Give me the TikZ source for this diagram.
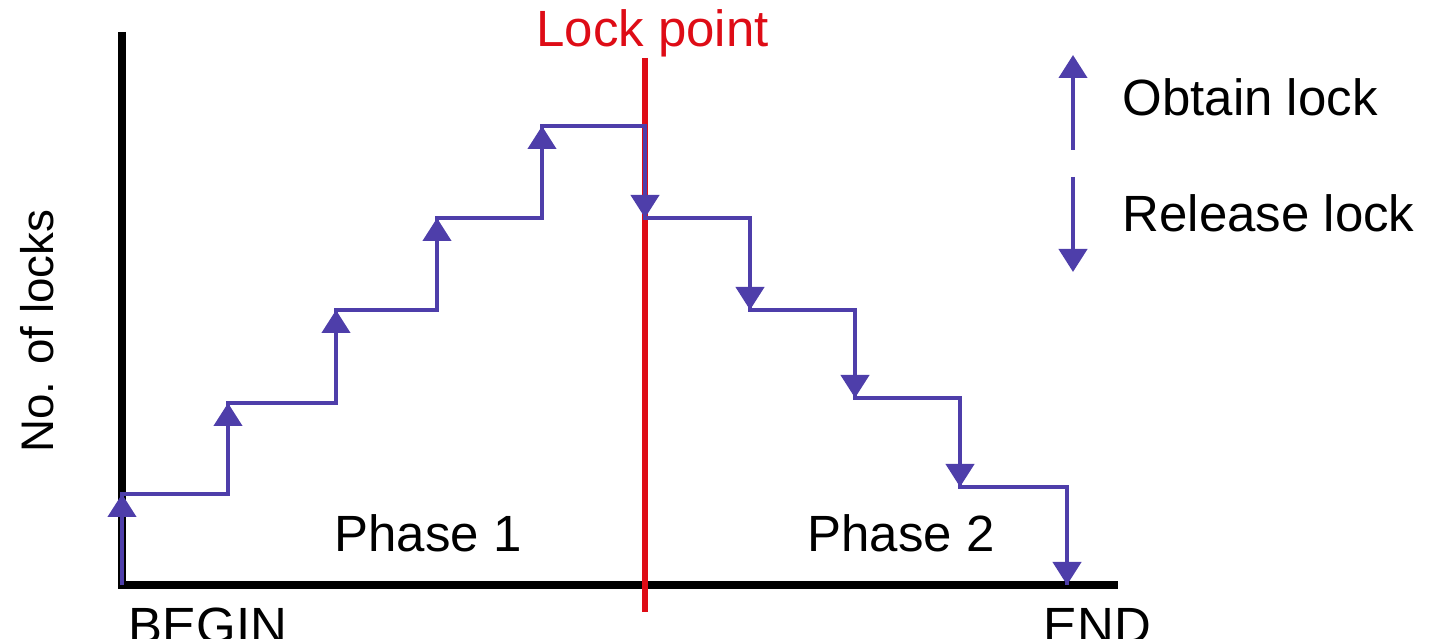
\documentclass[tikz,border=0pt]{standalone}
\usepackage{fontspec}
\setmainfont{Liberation Sans}
\usepackage{xcolor}
\usepackage{tikz}
\usetikzlibrary{arrows.meta,positioning}
\definecolor{lockblue}{RGB}{78,62,170}
\definecolor{lockred}{RGB}{222,12,22}

\begin{document}
\begin{tikzpicture}[
    axisline/.style={line width=0.08cm, black, line join=miter},
    stepline/.style={line width=0.042cm, lockblue, line join=miter},
    lockarrow/.style={line width=0.042cm, lockblue, -{Triangle[width=0.28cm, length=0.23cm]}},
    label/.style={font=\fontsize{14.5}{17}\selectfont, inner sep=0pt}
]
    \useasboundingbox (0,0) rectangle (14.35,6.39);
    % axes
    \coordinate (origin) at (1.22,0.54);
    \coordinate (ytop) at (1.22,6.07);
    \coordinate (xend) at (11.18,0.54);
    \draw[axisline] (ytop) -- (origin) -- (xend);
    % lock point
    \coordinate (lptop) at (6.45,5.81);
    \coordinate (lpbot) at (6.45,0.27);
    \draw[line width=0.055cm, lockred] (lptop) -- (lpbot);
    \node[label, text=lockred, anchor=base] (lp) at (6.525,5.92) {Lock point};
    % step corners
    \coordinate (c0) at (1.22,0.54);
    \coordinate (c1) at (1.22,1.45);
    \coordinate (c2) at (2.28,1.45);
    \coordinate (c3) at (2.28,2.36);
    \coordinate (c4) at (3.36,2.36);
    \coordinate (c5) at (3.36,3.29);
    \coordinate (c6) at (4.37,3.29);
    \coordinate (c7) at (4.37,4.21);
    \coordinate (c8) at (5.42,4.21);
    \coordinate (c9) at (5.42,5.13);
    \coordinate (c10) at (6.45,5.13);
    \coordinate (c11) at (6.45,4.21);
    \coordinate (c12) at (7.50,4.21);
    \coordinate (c13) at (7.50,3.29);
    \coordinate (c14) at (8.55,3.29);
    \coordinate (c15) at (8.55,2.41);
    \coordinate (c16) at (9.60,2.41);
    \coordinate (c17) at (9.60,1.52);
    \coordinate (c18) at (10.67,1.52);
    \coordinate (c19) at (10.67,0.54);
    \draw[stepline] (c0) -- (c1) -- (c2) -- (c3) -- (c4) -- (c5) -- (c6) -- (c7) -- (c8) -- (c9)
        -- (c10) -- (c11) -- (c12) -- (c13) -- (c14) -- (c15) -- (c16) -- (c17) -- (c18) -- (c19);
    \foreach \i in {0,2,...,18} {
        \pgfmathtruncatemacro\j{\i+1}
        \draw[lockarrow] (c\i) -- (c\j);
    }
    % legend
    \coordinate (ob1) at (10.73,4.89);
    \coordinate (ob2) at (10.73,5.84);
    \coordinate (rl1) at (10.73,4.62);
    \coordinate (rl2) at (10.73,3.67);
    \draw[lockarrow] (ob1) -- (ob2);
    \draw[lockarrow] (rl1) -- (rl2);
    \node[label, anchor=base west] (obtain) at (11.22,5.23) {Obtain lock};
    \node[label, anchor=base west] (release) at (11.22,4.07) {Release lock};
    % labels
    \node[label, anchor=base] (ph1) at (4.28,0.87) {Phase 1};
    \node[label, anchor=base] (ph2) at (9.01,0.87) {Phase 2};
    \node[label, anchor=base west] (begin) at (1.28,-0.05) {BEGIN};
    \node[label, anchor=base west] (end) at (10.43,-0.05) {END};
    \node[label, font=\fontsize{13}{15}\selectfont, rotate=90, anchor=base] (ylab) at (0.53,3.08) {No. of locks};
\end{tikzpicture}
\end{document}
